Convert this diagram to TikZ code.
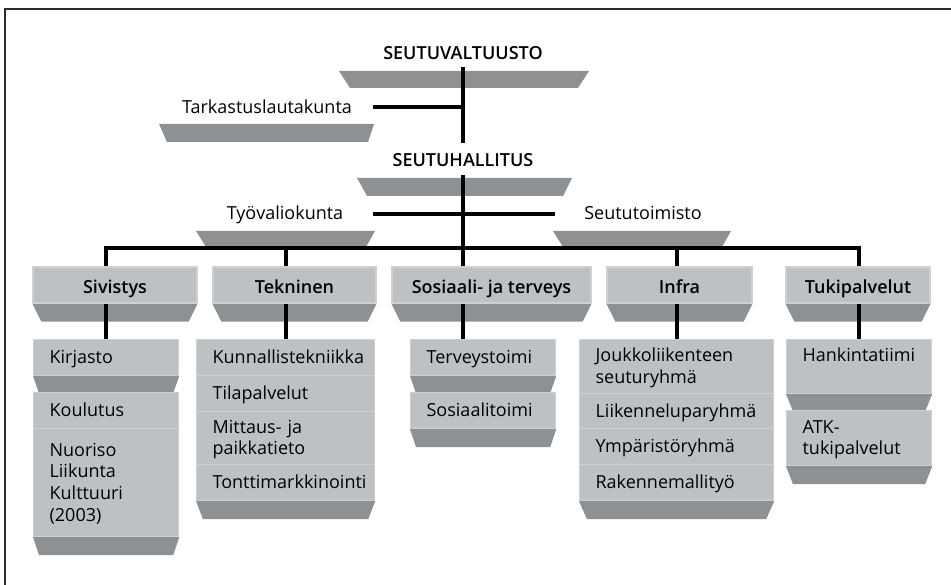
\documentclass[tikz,border=0pt]{standalone}
\usepackage{fontspec}
\setmainfont{Open Sans}[BoldFont={Open Sans Semibold}]
\pgfdeclarelayer{shade}
\pgfdeclarelayer{wires}
\pgfsetlayers{shade,wires,main}
\definecolor{shelf}{HTML}{8E9194}
\definecolor{panel}{HTML}{BEC1C4}
\definecolor{panelrim}{HTML}{CED1D3}
\definecolor{framecol}{HTML}{2B2B2B}
% dark bevel under a node: node name, inset, depth
\newcommand\shelfunder[3]{%
  \begin{pgfonlayer}{shade}
    \fill[shelf] (#1.south west) -- (#1.south east)
      -- ([xshift=-#2pt,yshift=-#3pt]#1.south east)
      -- ([xshift=#2pt,yshift=-#3pt]#1.south west) -- cycle;
  \end{pgfonlayer}}
\newcommand\topstrut{\rule{0pt}{17pt}}
\newcommand\botstrut{\rule[-5pt]{0pt}{5pt}}
\begin{document}
\begin{tikzpicture}[x=1pt,y=-1pt,
  conn/.style={line width=4pt,black},
  title/.style={font=\fontsize{18}{22}\selectfont\bfseries, inner sep=0, anchor=base},
  caption/.style={font=\fontsize{18}{22}\selectfont, inner sep=0, anchor=base},
  head/.style={fill=panel, draw=panelrim, line width=1.2pt, minimum height=36pt,
    inner sep=0, text height=17pt, text depth=0pt,
    font=\fontsize{18}{22}\selectfont\bfseries},
  item/.style={fill=panel, draw=panelrim, line width=1.2pt, anchor=north west,
    inner ysep=0, inner xsep=16pt, align=left,
    font=\fontsize{18}{21.7}\selectfont,
    execute at begin node=\topstrut, execute at end node=\botstrut},
  col1/.style={item, minimum width=145pt, text width=113pt},
  col2/.style={item, minimum width=178pt, text width=146pt},
  col4/.style={item, minimum width=194pt, text width=162pt},
]
\useasboundingbox (0,0) rectangle (951,585);
\draw[framecol, line width=2pt] (5,585) -- (5,9) -- (951,9);

% ---- upper levels
\node[title] (valt) at (463,60) {SEUTUVALTUUSTO};
\node[caption] (tark) at (267,114) {Tarkastuslautakunta};
\node[title] (hall) at (463,167) {SEUTUHALLITUS};
\node[caption] (tyo) at (285,220) {Työvaliokunta};
\node[caption] (seu) at (643,220) {Seututoimisto};

\begin{pgfonlayer}{shade}
  \fill[shelf] (339,71) -- (589,71) -- (578,88) -- (350,88) -- cycle;
  \fill[shelf] (159,124) -- (374,124) -- (368,142) -- (167,142) -- cycle;
  \fill[shelf] (357,178) -- (572,178) -- (563,196) -- (367,196) -- cycle;
  \fill[shelf] (196,231) -- (375,231) -- (366,247) -- (206,247) -- cycle;
  \fill[shelf] (553,231) -- (731,231) -- (722,247) -- (563,247) -- cycle;
\end{pgfonlayer}

% ---- departments
\node[head, minimum width=164pt] (siv) at (115,285) {Sivistys};
\node[head, minimum width=163pt] (tek) at (294.5,285) {Tekninen};
\node[head, minimum width=199pt] (sos) at (491.5,285) {Sosiaali- ja terveys};
\node[head, minimum width=145pt] (inf) at (679.5,285) {Infra};
\node[head, minimum width=144pt] (tuk) at (858,285) {Tukipalvelut};
\foreach \n in {siv,tek,sos,inf,tuk}{\shelfunder{\n}{9}{18}}

% ---- units
\node[col1, minimum height=36pt] (kirj) at (33,339) {Kirjasto};
\shelfunder{kirj}{6}{17}
\node[col1, minimum height=36pt] (koul) at (33,392) {Koulutus};
\node[col1, minimum height=108pt] (nuor) at (33,428) {Nuoriso\\Liikunta\\Kulttuuri\\(2003)};
\shelfunder{nuor}{6}{18}

\node[col2, minimum height=36pt] (kunn) at (196,339) {Kunnallistekniikka};
\node[col2, minimum height=36pt] (tila) at (196,375) {Tilapalvelut};
\node[col2, minimum height=53pt] (mitt) at (196,411) {Mittaus- ja\\paikkatieto};
\node[col2, minimum height=36pt] (tont) at (196,464) {Tonttimarkkinointi};
\shelfunder{tont}{7}{18}

\node[col1, minimum height=36pt] (terv) at (410,339) {Terveystoimi};
\shelfunder{terv}{6}{17}
\node[col1, minimum height=36pt] (sost) at (410,392) {Sosiaalitoimi};
\shelfunder{sost}{6}{18}

\node[col4, minimum height=54pt] (jouk) at (579,339) {Joukkoliikenteen\\seuturyhmä};
\node[col4, minimum height=35pt] (liik) at (579,393) {Liikenneluparyhmä};
\node[col4, minimum height=36pt] (ymp) at (579,428) {Ympäristöryhmä};
\node[col4, minimum height=36pt] (rak) at (579,464) {Rakennemallityö};
\shelfunder{rak}{8}{18}

\node[col1, minimum height=54pt] (hank) at (786,339) {Hankintatiimi\\\mbox{}};
\shelfunder{hank}{7}{17}
\node[col1, minimum height=55pt] (atk) at (786,410) {ATK-\\tukipalvelut};
\shelfunder{atk}{7}{18}

% ---- connectors
\coordinate (trunkA) at (463,67);
\coordinate (trunkB) at (463,143);
\coordinate (trunkC) at (463,175);
\coordinate (bus) at (463,248.5);
\coordinate (tarkEnd) at (373,107);
\coordinate (tyoEnd) at (373,214);
\coordinate (seuEnd) at (555,214);
\begin{pgfonlayer}{wires}
  \draw[conn] (trunkA) -- (trunkB);
  \draw[conn] (tarkEnd) -- (tarkEnd -| trunkA);
  \draw[conn] (trunkC) -- (trunkC |- terv.north);
  \draw[conn] (tyoEnd) -- (seuEnd);
  \draw[conn] (kirj.north) -- (kirj.north |- bus) -- (hank.north |- bus) -- (hank.north);
  \draw[conn] (kunn.north) -- (kunn.north |- bus);
  \draw[conn] (jouk.north) -- (jouk.north |- bus);
\end{pgfonlayer}
\end{tikzpicture}
\end{document}
